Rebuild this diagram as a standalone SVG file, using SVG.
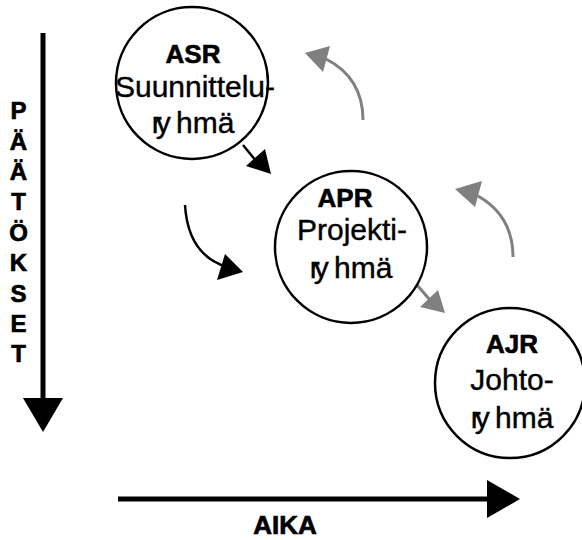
<svg xmlns="http://www.w3.org/2000/svg" width="582" height="540" viewBox="0 0 582 540">
  <style>
    .node circle { fill: #ffffff; stroke: #000000; stroke-width: 2.5; }
    .title { font-family: "Liberation Sans", Arial, sans-serif; font-weight: 700; font-size: 26px; text-anchor: middle; fill: #000; stroke: #000; stroke-width: 0.6; }
    .label { font-family: "Liberation Sans", Arial, sans-serif; font-size: 30px; text-anchor: middle; fill: #000; stroke: #000; stroke-width: 0.4; }
    .axis-text { font-family: "Liberation Sans", Arial, sans-serif; font-weight: 700; font-size: 24px; text-anchor: middle; fill: #000; stroke: #000; stroke-width: 0.7; }
    .axis { stroke: #000; stroke-width: 5; fill: none; }
    .flow { stroke: #000; stroke-width: 2.5; fill: none; }
    .flow-grey { stroke: #808080; stroke-width: 3; fill: none; }
    .head { fill: #000; }
    .head-grey { fill: #808080; }
  </style>

  <rect width="582" height="540" fill="#ffffff"/>

  <!-- axes -->
  <g id="axes">
    <line class="axis" x1="43" y1="33" x2="43" y2="400"/>
    <polygon class="head" points="23,398 63,398 43,432"/>
    <line class="axis" x1="118" y1="499" x2="490" y2="499"/>
    <polygon class="head" points="487,480 487,518 520,499"/>
    <text class="axis-text" x="18.5" y="119">P</text>
    <text class="axis-text" x="18.5" y="149.5">Ä</text>
    <text class="axis-text" x="18.5" y="180">Ä</text>
    <text class="axis-text" x="18.5" y="210">T</text>
    <text class="axis-text" x="18.5" y="240.5">Ö</text>
    <text class="axis-text" x="18.5" y="271">K</text>
    <text class="axis-text" x="18.5" y="301.5">S</text>
    <text class="axis-text" x="18.5" y="332">E</text>
    <text class="axis-text" x="18.5" y="362">T</text>
    <text class="axis-text" x="285" y="534" style="font-size:26px">AIKA</text>
  </g>

  <!-- connectors -->
  <g id="connectors">
    <line class="flow" x1="243" y1="145" x2="256" y2="161"/>
    <polygon class="head" points="246,166 265,149 271,174"/>
    <line class="flow-grey" x1="417" y1="285" x2="430" y2="300"/>
    <polygon class="head-grey" points="420,307 438,290 445,313"/>
    <path class="flow-grey" d="M363,120 Q363,78 326,59"/>
    <polygon class="head-grey" points="305,53 330,46 323,72"/>
    <path class="flow-grey" d="M513,257 Q513,216 478,196"/>
    <polygon class="head-grey" points="455,189 482,181 475,207"/>
    <path class="flow" d="M185,205 Q188,255 227,267"/>
    <polygon class="head" points="225,254 217,280 243,272"/>
  </g>

  <!-- nodes -->
  <g id="asr" class="node">
    <circle cx="192" cy="83" r="76"/>
    <text class="title" x="193" y="63">ASR</text>
    <text class="label" x="195" y="97">Suunnittelu-</text>
    <text class="label" x="193" y="133" dx="0 -6 -1 -2">ry hmä</text>
  </g>
  <g id="apr" class="node">
    <circle cx="351" cy="247" r="76"/>
    <text class="title" x="345" y="207">APR</text>
    <text class="label" x="352" y="240">Projekti-</text>
    <text class="label" x="351" y="278" dx="0 -6 -1 -2">ry hmä</text>
  </g>
  <g id="ajr" class="node">
    <circle cx="510" cy="383" r="75"/>
    <text class="title" x="512" y="353">AJR</text>
    <text class="label" x="512" y="390">Johto-</text>
    <text class="label" x="512" y="428" dx="0 -6 -1 -2">ry hmä</text>
  </g>
</svg>
